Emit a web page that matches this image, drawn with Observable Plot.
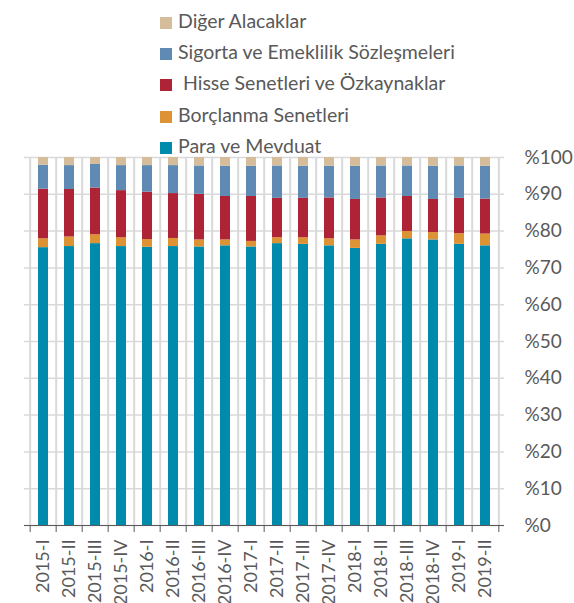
<!DOCTYPE html>
<html><head><meta charset="utf-8">
<script src="https://cdn.jsdelivr.net/npm/d3@7"></script>
<script src="https://cdn.jsdelivr.net/npm/@observablehq/plot@0.6"></script>
<style>
body{margin:0;background:#fff;}
#wrap{position:relative;width:574px;height:603px;font-family:Lato,"Open Sans",sans-serif;color:#595959;}
.item{position:absolute;left:160px;height:20px;line-height:20px;font-size:19.5px;white-space:pre;}
.sw{display:inline-block;width:12px;height:12px;margin-right:6px;vertical-align:-1px;}
#chart{position:absolute;left:0;top:0;}
</style>
</head><body>
<div id="wrap"><div id="chart"></div><div id="legend"></div></div>
<script>
const periods = ["2015-I","2015-II","2015-III","2015-IV","2016-I","2016-II","2016-III","2016-IV","2017-I","2017-II","2017-III","2017-IV","2018-I","2018-II","2018-III","2018-IV","2019-I","2019-II"];
const seriesNames = ["Para ve Mevduat","Borçlanma Senetleri"," Hisse Senetleri ve Özkaynaklar","Sigorta ve Emeklilik Sözleşmeleri","Diğer Alacaklar"];
const seriesColors = ["#008bad","#dd9333","#ae2336","#5f8ab4","#d5bd9b"];
const para    = [75.5,75.8,76.6,75.8,75.6,75.8,75.7,76.0,75.7,76.6,76.4,76.0,75.3,76.4,77.9,77.6,76.4,76.0];
const borc    = [2.4,2.6,2.4,2.4,2.1,2.2,1.9,1.6,1.5,1.6,1.8,1.9,2.3,2.3,2.0,2.0,2.9,3.2];
const hisse   = [13.5,12.9,12.7,12.8,12.9,12.2,12.4,11.8,12.2,10.7,10.7,11.1,11.0,10.3,9.5,9.0,9.6,9.5];
const sigorta = [6.5,6.5,6.4,6.8,7.2,7.6,7.7,8.2,8.2,8.8,8.7,8.6,9.0,8.7,8.3,9.0,8.8,8.9];
const diger   = [2.1,2.2,1.9,2.2,2.2,2.2,2.3,2.4,2.4,2.3,2.4,2.4,2.4,2.3,2.3,2.4,2.3,2.4];
const yTicks = [0,10,20,30,40,50,60,70,80,90,100];
const legendOrder = [4,3,2,1,0];

const valuesBySeries = [para, borc, hisse, sigorta, diger];
const rows = [];
periods.forEach((p, i) => {
  valuesBySeries.forEach((vals, s) => rows.push({period: p, series: seriesNames[s], value: vals[i]}));
});

const W = 574, H = 603, mL = 24, mR = 70, mT = 157, mB = 78;
const step = (W - mL - mR) / periods.length;
const gridColor = "#d9d9d9";

const chart = Plot.plot({
  width: W, height: H,
  marginLeft: mL, marginRight: mR, marginTop: mT, marginBottom: mB,
  style: {fontFamily: "Lato, 'Open Sans', sans-serif", color: "#595959", background: "transparent"},
  x: {domain: periods, paddingInner: 0.63, paddingOuter: 0.315, label: null},
  y: {domain: [0, 100], label: null},
  color: {domain: seriesNames, range: seriesColors},
  marks: [
    Plot.ruleY(yTicks, {stroke: gridColor, strokeWidth: 1.5}),
    Plot.ruleX(periods, {stroke: gridColor, strokeWidth: 2, dx: -step / 2}),
    Plot.ruleX(periods.slice(-1), {stroke: gridColor, strokeWidth: 2, dx: step / 2}),
    Plot.barY(rows, Plot.stackY({x: "period", y: "value", fill: "series", order: seriesNames})),
    Plot.ruleY([0], {stroke: "#595959", strokeWidth: 1}),
    Plot.ruleX(periods, {stroke: "#595959", strokeWidth: 1, dx: -step / 2, insetTop: H - mT - mB, insetBottom: -7}),
    Plot.ruleX(periods.slice(-1), {stroke: "#595959", strokeWidth: 1, dx: step / 2, insetTop: H - mT - mB, insetBottom: -7}),
    Plot.axisY({anchor: "right", ticks: yTicks, tickSize: 0, tickPadding: 20, tickFormat: d => "%" + d, fontSize: 19, label: null}),
    Plot.axisX({tickRotate: -90, tickSize: 0, tickPadding: 14, fontSize: 18, label: null})
  ]
});
document.getElementById("chart").appendChild(chart);

const legend = document.getElementById("legend");
const centers = [21, 52, 83, 114.5, 146];
legendOrder.forEach((s, k) => {
  const d = document.createElement("div");
  d.className = "item";
  d.style.top = (centers[k] - 10) + "px";
  const sw = document.createElement("span");
  sw.className = "sw";
  sw.style.background = seriesColors[s];
  d.appendChild(sw);
  d.appendChild(document.createTextNode(seriesNames[s]));
  legend.appendChild(d);
});
</script>
</body></html>
